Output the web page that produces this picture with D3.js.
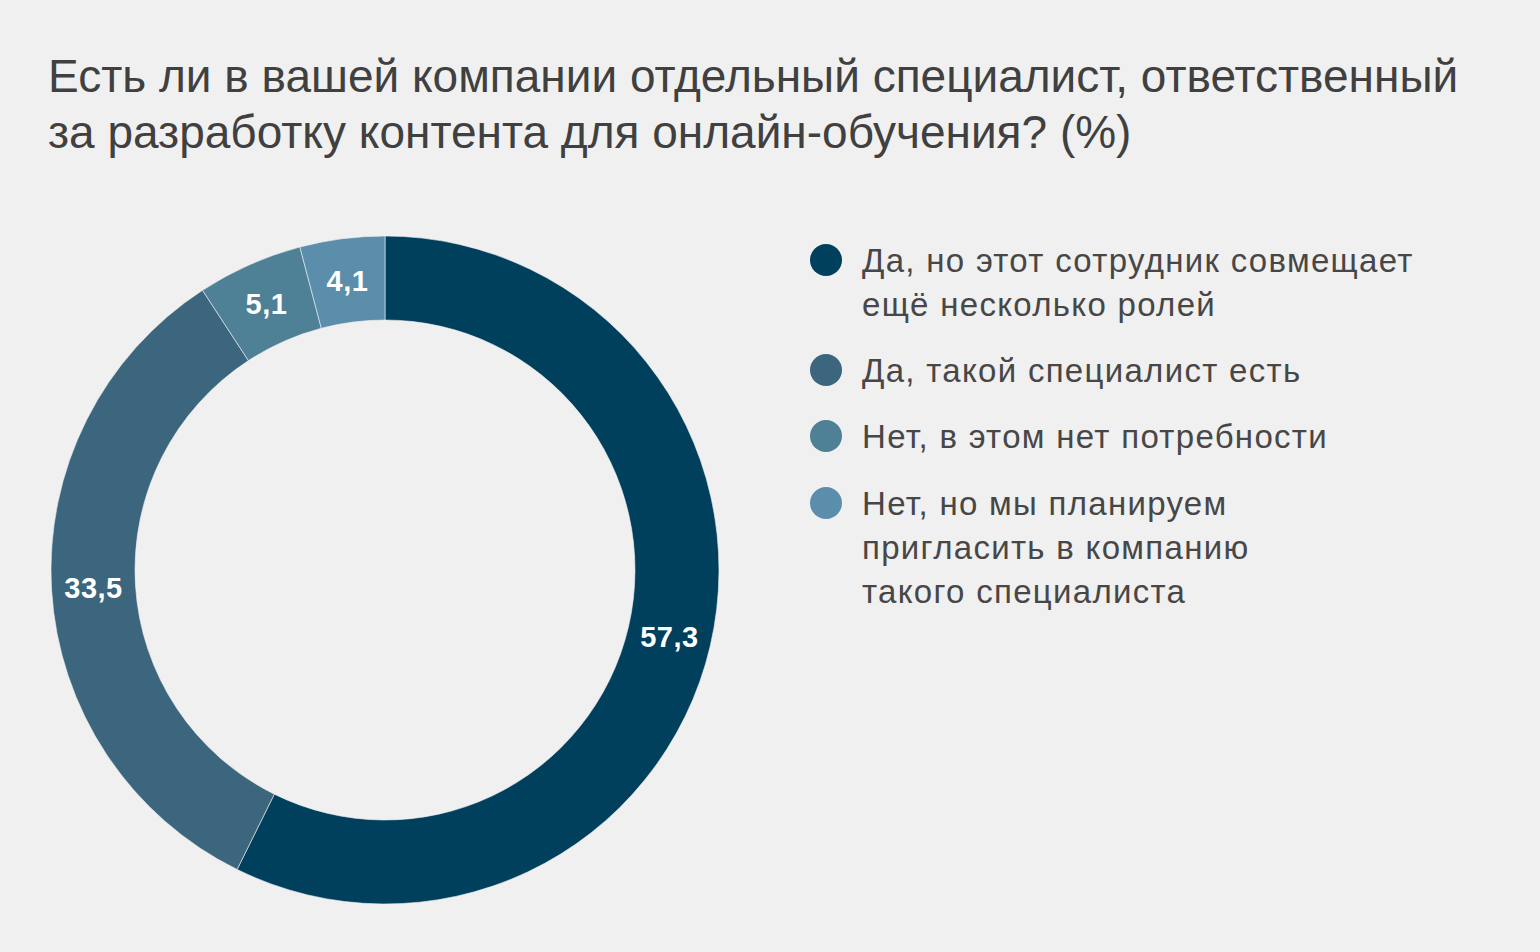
<!DOCTYPE html>
<html><head><meta charset="utf-8">
<script src="https://cdn.jsdelivr.net/npm/d3@7"></script>
<style>html,body{margin:0;padding:0;background:#f0f0f0;}svg{display:block;}</style>
</head><body>
<svg id="c" width="1540" height="952"></svg>
<script>
const titleLines = ["Есть ли в вашей компании отдельный специалист, ответственный", "за разработку контента для онлайн-обучения? (%)"];
const categories = [
  ["Да, но этот сотрудник совмещает", "ещё несколько ролей"],
  ["Да, такой специалист есть"],
  ["Нет, в этом нет потребности"],
  ["Нет, но мы планируем", "пригласить в компанию", "такого специалиста"]
];
const values = [57.3, 33.5, 5.1, 4.1];
const labels = ["57,3", "33,5", "5,1", "4,1"];
const colors = ["#00405d", "#3b667d", "#4e8096", "#5a8eaa"];

const svg = d3.select("#c");
svg.append("rect").attr("width",1540).attr("height",952).attr("fill","#f0f0f0");
const font = "'Liberation Sans', Arial, sans-serif";

svg.append("g").selectAll("text").data(titleLines).join("text")
  .attr("x",48).attr("y",(d,i)=>91.5+i*56)
  .attr("font-family",font).attr("font-size",46).attr("fill","#404040")
  .text(d=>d);

const cx=385, cy=570, R=334, r=250;
const pie = d3.pie().sort(null).value(d=>d)(values);
const arc = d3.arc().innerRadius(r).outerRadius(R);
const labelArc = d3.arc().innerRadius((R+r)/2).outerRadius((R+r)/2);
const g = svg.append("g").attr("transform",`translate(${cx},${cy})`);
g.selectAll("path").data(pie).join("path")
  .attr("d",arc).attr("fill",(d,i)=>colors[i])
  .attr("stroke","#f0f0f0").attr("stroke-width",0.6);
g.selectAll("text").data(pie).join("text")
  .attr("transform",d=>`translate(${labelArc.centroid(d)})`)
  .attr("text-anchor","middle").attr("dy","0.36em")
  .attr("font-family",font).attr("font-weight","bold").attr("font-size",29)
  .attr("letter-spacing",0.5).attr("fill","#ffffff")
  .text((d,i)=>labels[i]);

const legendY = [260, 370, 436, 503];
const lg = svg.append("g");
categories.forEach((lines,i)=>{
  lg.append("circle").attr("cx",826).attr("cy",legendY[i]).attr("r",16).attr("fill",colors[i]);
  lg.append("g").selectAll("text").data(lines).join("text")
    .attr("x",862).attr("y",(d,j)=>legendY[i]+12+j*44)
    .attr("font-family",font).attr("font-size",33).attr("letter-spacing",1.3).attr("fill","#474747")
    .text(d=>d);
});
</script>
</body></html>
